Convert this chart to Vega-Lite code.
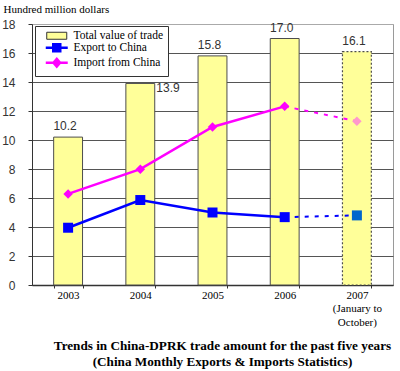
{
  "$schema": "https://vega.github.io/schema/vega-lite/v6.json",
  "width": 361,
  "height": 261,
  "autosize": {"type": "none"},
  "padding": {"left": 32, "top": 24, "right": 7, "bottom": 86},
  "background": "white",
  "config": {"view": {"stroke": "#9a9a9a"}},
  "title": {
    "text": ["Trends in China-DPRK trade amount for the past five years", "(China Monthly Exports & Imports Statistics)"],
    "orient": "bottom",
    "anchor": "middle",
    "font": "Liberation Serif",
    "fontSize": 13.2,
    "fontWeight": "bold",
    "color": "black",
    "lineHeight": 16,
    "offset": 13,
    "dx": 10
  },
  "data": {
    "values": [
      {"year": "2003", "series": "Total value of trade", "value": 10.2},
      {"year": "2004", "series": "Total value of trade", "value": 13.9},
      {"year": "2005", "series": "Total value of trade", "value": 15.8},
      {"year": "2006", "series": "Total value of trade", "value": 17.0},
      {"year": "2007", "series": "Total value of trade", "value": 16.1},
      {"year": "2003", "series": "Export to China", "value": 3.95},
      {"year": "2004", "series": "Export to China", "value": 5.86},
      {"year": "2005", "series": "Export to China", "value": 5.0},
      {"year": "2006", "series": "Export to China", "value": 4.68},
      {"year": "2007", "series": "Export to China", "value": 4.8},
      {"year": "2003", "series": "Import from China", "value": 6.28},
      {"year": "2004", "series": "Import from China", "value": 7.99},
      {"year": "2005", "series": "Import from China", "value": 10.9},
      {"year": "2006", "series": "Import from China", "value": 12.32},
      {"year": "2007", "series": "Import from China", "value": 11.3}
    ]
  },
  "encoding": {
    "x": {
      "field": "year",
      "type": "ordinal",
      "scale": {"paddingInner": 0.6, "paddingOuter": 0.3},
      "axis": {
        "title": null,
        "labelAngle": 0,
        "labelFont": "Liberation Serif",
        "labelFontSize": 11,
        "labelColor": "black",
        "labelPadding": 1,
        "labelLineHeight": 13.5,
        "labelExpr": "datum.value == '2007' ? ['2007', '(January to', 'October)'] : datum.value",
        "tickBand": "extent",
        "tickSize": 3,
        "tickColor": "#333",
        "domainColor": "#333",
        "domainWidth": 1.5
      }
    },
    "y": {
      "field": "value",
      "type": "quantitative",
      "scale": {"domain": [0, 18], "nice": false},
      "axis": {
        "values": [0, 2, 4, 6, 8, 10, 12, 14, 16, 18],
        "grid": true,
        "gridColor": {"condition": {"test": "datum.value == 18", "value": "#aaaaaa"}, "value": "#555555"},
        "gridWidth": 1,
        "domainColor": "#333",
        "tickColor": "#333",
        "tickSize": 4,
        "labelPadding": 13,
        "labelFont": "Liberation Sans",
        "labelFontSize": 12,
        "labelColor": "#333",
        "title": "Hundred million dollars",
        "titleAngle": 0,
        "titleX": -29,
        "titleY": -12,
        "titleAlign": "left",
        "titleBaseline": "alphabetic",
        "titleFont": "Liberation Serif",
        "titleFontSize": 11,
        "titleFontWeight": "normal",
        "titleColor": "black"
      }
    }
  },
  "layer": [
    {
      "transform": [{"filter": "datum.series == 'Total value of trade' && datum.year != '2007'"}],
      "mark": {"type": "bar", "stroke": "#4d4d4d", "strokeWidth": 1},
      "encoding": {
        "color": {
          "field": "series",
          "type": "nominal",
          "scale": {"domain": ["Total value of trade", "Export to China", "Import from China"], "range": ["#FFFF99", "#0000FF", "#FF00FF"]},
          "legend": {
            "title": null,
            "orient": "none",
            "legendX": 3,
            "legendY": 2,
            "padding": 4,
            "strokeColor": "#333",
            "fillColor": "white",
            "symbolSize": 49,
            "symbolOffset": 12,
            "symbolType": {"expr": "datum.value === 'Total value of trade' ? 'M-2.86,-1H2.86V1H-2.86Z' : (datum.value === 'Export to China' ? 'M-3.14,0H3.14M-1,-1H1V1H-1Z' : 'M-3.14,0H3.14M0,-1.1L0.94,0L0,1.1L-0.94,0Z')"},
            "symbolStrokeColor": {"expr": "datum.value === 'Total value of trade' ? '#333333' : (datum.value === 'Export to China' ? '#0000FF' : '#FF00FF')"},
            "symbolStrokeWidth": {"expr": "datum.value === 'Total value of trade' ? 1 : 2.5"},
            "labelFont": "Liberation Serif",
            "labelFontSize": 11.5,
            "labelColor": "black",
            "rowPadding": -4,
            "labelOffset": 11
          }
        }
      }
    },
    {
      "transform": [{"filter": "datum.series == 'Total value of trade' && datum.year == '2007'"}],
      "mark": {"type": "bar", "fill": "#FFFF99", "stroke": "#4d4d4d", "strokeWidth": 1.2, "strokeDash": [2, 2]},
      "encoding": {}
    },
    {
      "transform": [{"filter": "datum.series == 'Total value of trade' && datum.year != '2004'"}],
      "mark": {"type": "text", "baseline": "bottom", "dy": -4, "dx": -3, "font": "Liberation Sans", "fontSize": 12, "color": "#333"},
      "encoding": {"text": {"field": "value", "type": "quantitative", "format": ".1f"}}
    },
    {
      "transform": [{"filter": "datum.series == 'Total value of trade' && datum.year == '2004'"}],
      "mark": {"type": "text", "align": "left", "baseline": "middle", "dx": 16, "dy": 5, "font": "Liberation Sans", "fontSize": 12, "color": "#333"},
      "encoding": {"text": {"field": "value", "type": "quantitative", "format": ".1f"}}
    },
    {
      "transform": [{"filter": "datum.series == 'Export to China' && datum.year != '2007'"}],
      "mark": {"type": "line", "color": "#0000FF", "strokeWidth": 2.5},
      "encoding": {}
    },
    {
      "transform": [{"filter": "datum.series == 'Export to China' && (datum.year == '2006' || datum.year == '2007')"}],
      "mark": {"type": "line", "color": "#0000FF", "strokeWidth": 2, "strokeDash": [4, 6]},
      "encoding": {}
    },
    {
      "transform": [{"filter": "datum.series == 'Import from China' && datum.year != '2007'"}],
      "mark": {"type": "line", "color": "#FF00FF", "strokeWidth": 2.5},
      "encoding": {}
    },
    {
      "transform": [{"filter": "datum.series == 'Import from China' && (datum.year == '2006' || datum.year == '2007')"}],
      "mark": {"type": "line", "color": "#FF00FF", "strokeWidth": 2, "strokeDash": [4, 6]},
      "encoding": {}
    },
    {
      "transform": [{"filter": "datum.series == 'Export to China'"}],
      "mark": {"type": "point", "shape": "square", "filled": true, "size": 100, "opacity": 1},
      "encoding": {
        "fill": {"condition": {"test": "datum.year == '2007'", "value": "#0066CC"}, "value": "#0000FF"}
      }
    },
    {
      "transform": [{"filter": "datum.series == 'Import from China'"}],
      "mark": {"type": "point", "shape": "diamond", "filled": true, "size": 90, "opacity": 1},
      "encoding": {
        "fill": {"condition": {"test": "datum.year == '2007'", "value": "#FF99CC"}, "value": "#FF00FF"}
      }
    }
  ]
}
